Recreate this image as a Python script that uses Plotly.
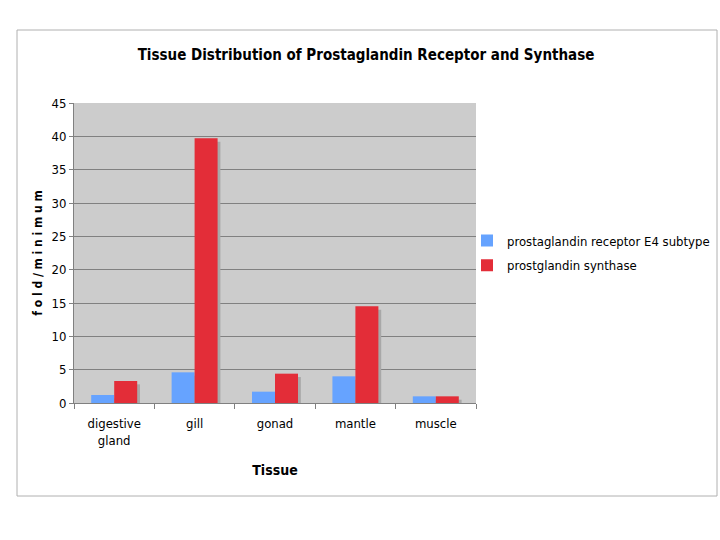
import plotly.graph_objects as go

categories = ["digestive<br>gland", "gill", "gonad", "mantle", "muscle"]
receptor = [1.2, 4.6, 1.7, 4.0, 1.0]
synthase = [3.3, 39.7, 4.4, 14.5, 1.0]
series_names = ["prostaglandin receptor E4 subtype", "prostglandin synthase"]
y_ticks = [0, 5, 10, 15, 20, 25, 30, 35, 40, 45]

FONT = "DejaVu Sans Condensed, DejaVu Sans, sans-serif"
BLUE = "#66a3ff"
RED = "#e32d38"
SHADOW = "#a8a8a8"
W = 0.286
SH = 0.035

fig = go.Figure()
# shadows
for vals, off in [(receptor, -W), (synthase, 0.0)]:
    fig.add_trace(go.Bar(x=categories, y=[max(v - 0.25, 0) for v in vals], base=[-0.25] * len(vals),
                         width=W, offset=off + SH, marker=dict(color=SHADOW, line=dict(width=0)),
                         showlegend=False, hoverinfo="skip"))
fig.add_trace(go.Bar(x=categories, y=receptor, name=series_names[0], width=W, offset=-W,
                     marker=dict(color=BLUE, line=dict(width=0)), legendgroup="a"))
fig.add_trace(go.Bar(x=categories, y=synthase, name=series_names[1], width=W, offset=0.0,
                     marker=dict(color=RED, line=dict(width=0)), legendgroup="b"))

fig.update_layout(
    width=720, height=540,
    margin=dict(l=74, r=244, t=103, b=137, autoexpand=False),
    barmode="overlay",
    paper_bgcolor="white",
    plot_bgcolor="#cccccc",
    font=dict(family=FONT, size=13, color="black"),
    title=dict(text="<b>Tissue Distribution of Prostaglandin Receptor and Synthase</b>",
               x=366 / 720, xanchor="center", y=1 - 55 / 540, yanchor="middle",
               font=dict(family=FONT, size=15, color="black")),
    legend=dict(xref="container", yref="container", x=467 / 720, xanchor="left",
                y=1 - 253 / 540, yanchor="middle", itemwidth=30,
                font=dict(family=FONT, size=13), tracegroupgap=5,
                bgcolor="rgba(0,0,0,0)"),
    xaxis=dict(type="category", tickson="boundaries", ticks="outside", ticklen=5,
               tickcolor="#808080", showline=True, linecolor="#808080", linewidth=1,
               ticklabelstandoff=8,
               title=dict(text="<b>Tissue</b>", font=dict(family=FONT, size=14), standoff=18),
               tickfont=dict(family=FONT, size=13), range=[-0.5, 4.5]),
    yaxis=dict(range=[0, 45], tickvals=y_ticks, ticks="outside", ticklen=4,
               tickcolor="#808080", showline=True, linecolor="#808080", linewidth=1,
               showgrid=True, gridcolor="#808080", gridwidth=1, zeroline=False,
               title=dict(text="<b>f o l d / m i n i m u m</b>", font=dict(family=FONT, size=12), standoff=6),
               tickfont=dict(family=FONT, size=13)),
    shapes=[dict(type="rect", xref="paper", yref="paper",
                 x0=(17 - 74) / 402, x1=(717 - 74) / 402,
                 y0=(403 - 496) / 300, y1=(403 - 30) / 300,
                 line=dict(color="#b0b0b0", width=1), fillcolor="rgba(0,0,0,0)", layer="below")],
)
fig.write_html("out.html")
